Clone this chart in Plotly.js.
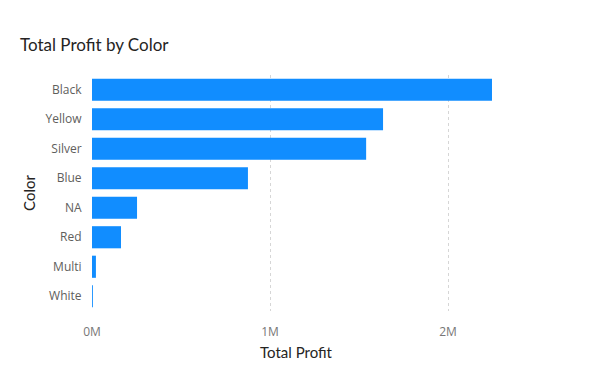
<!DOCTYPE html>
<html>
<head>
<meta charset="utf-8">
<script src="https://cdn.plot.ly/plotly-3.0.1.min.js"></script>
<style>html,body{margin:0;padding:0;background:#fff;}#chart{width:597px;height:383px;}</style>
</head>
<body>
<div id="chart"></div>
<script>
const categories = ["Black", "Yellow", "Silver", "Blue", "NA", "Red", "Multi", "White"];
const profit = [2247000, 1635000, 1540000, 876000, 253000, 163000, 22000, 5000];
const tickVals = [0, 1000000, 2000000];
const tickText = ["0M", "1M", "2M"];

const font = "Segoe UI, 'Open Sans', 'Noto Sans', sans-serif";
const titleFont = "Lato, 'Noto Sans', sans-serif";

Plotly.newPlot("chart", [{
  type: "bar",
  orientation: "h",
  y: categories,
  x: profit,
  marker: {color: "#118DFF"},
  hoverinfo: "x+y"
}], {
  width: 597, height: 383,
  margin: {l: 92, r: 97, t: 75, b: 72, pad: 0},
  paper_bgcolor: "#fff", plot_bgcolor: "#fff",
  bargap: 0.25,
  showlegend: false,
  title: {text: "Total Profit by Color", x: 20/597, xanchor: "left", y: 1 - 45/383, yanchor: "middle",
          font: {family: titleFont, size: 17, color: "#252423"}},
  xaxis: {
    range: [0, 2292000],
    tickvals: tickVals, ticktext: tickText,
    showgrid: true, gridcolor: "#D6D6D6", griddash: "dot", gridwidth: 1,
    zeroline: false, showline: false,
    ticks: "outside", ticklen: 10, tickcolor: "rgba(0,0,0,0)",
    tickfont: {family: font, size: 12, color: "#777777"},
    title: {text: "Total Profit", standoff: 8, font: {family: titleFont, size: 15, color: "#252423"}},
    fixedrange: true
  },
  yaxis: {
    categoryorder: "array", categoryarray: categories, autorange: "reversed",
    showgrid: false, zeroline: false, showline: false,
    ticks: "outside", ticklen: 7, tickcolor: "rgba(0,0,0,0)",
    tickfont: {family: font, size: 12, color: "#605E5C"},
    title: {text: "Color", standoff: 6, font: {family: titleFont, size: 15, color: "#252423"}},
    fixedrange: true
  }
}, {displayModeBar: false, staticPlot: true});
</script>
</body>
</html>
